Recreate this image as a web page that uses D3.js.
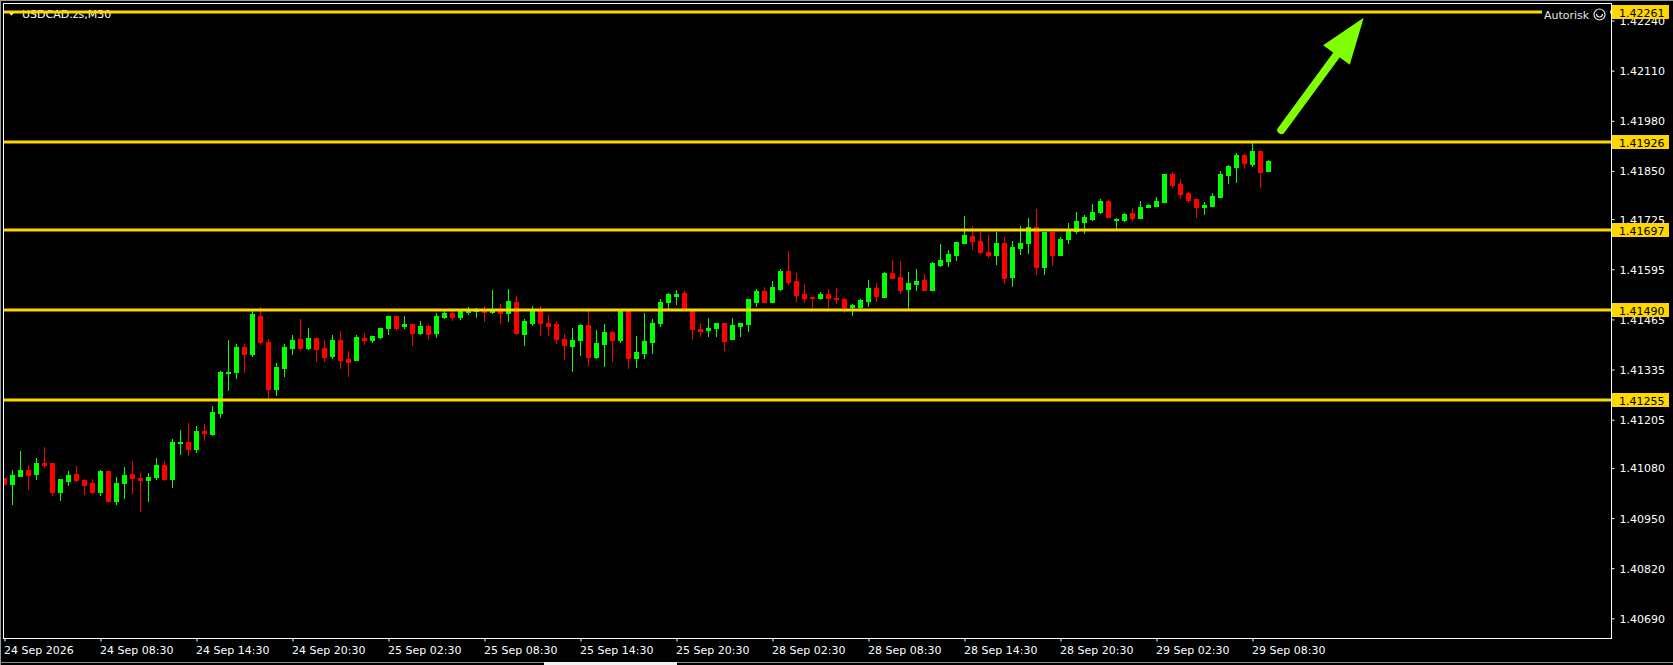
<!DOCTYPE html>
<html>
<head>
<meta charset="utf-8">
<script src="https://cdn.jsdelivr.net/npm/d3@7"></script>
<style>
  html, body { margin: 0; padding: 0; background: #000; }
  svg { display: block; }
  text { font-family: "DejaVu Sans", sans-serif; }
</style>
</head>
<body>
<div id="chart"></div>
<script>
// ---------------- DATA ----------------
const symbolTitle = "USDCAD.zs,M30";
const openP = [1.41053,1.41039,1.41060,1.41075,1.41065,1.41093,1.41093,1.41018,1.41047,1.41065,
1.41049,1.41042,1.41018,1.41073,1.40993,1.41042,1.41065,1.41055,1.41049,1.41057,
1.41088,1.41052,1.41145,1.41147,1.41129,1.41176,1.41168,1.41222,1.41326,1.41328,
1.41393,1.41375,1.41475,1.41406,1.41284,1.41339,1.41390,1.41413,1.41390,1.41416,
1.41390,1.41370,1.41411,1.41362,1.41359,1.41416,1.41411,1.41419,1.41442,1.41473,
1.41448,1.41452,1.41431,1.41447,1.41429,1.41470,1.41481,1.41470,1.41483,1.41487,
1.41490,1.41485,1.41490,1.41481,1.41509,1.41426,1.41455,1.41489,1.41457,1.41452,
1.41413,1.41395,1.41411,1.41450,1.41367,1.41400,1.41432,1.41411,1.41486,1.41364,
1.41377,1.41406,1.41455,1.41509,1.41527,1.41533,1.41489,1.41439,1.41437,1.41442,
1.41457,1.41413,1.41447,1.41452,1.41509,1.41538,1.41510,1.41544,1.41591,1.41565,
1.41531,1.41523,1.41520,1.41531,1.41520,1.41518,1.41497,1.41497,1.41512,1.41546,
1.41523,1.41585,1.41575,1.41544,1.41557,1.41567,1.41541,1.41606,1.41617,1.41632,
1.41664,1.41682,1.41669,1.41640,1.41632,1.41664,1.41575,1.41651,1.41662,1.41705,
1.41600,1.41692,1.41633,1.41674,1.41695,1.41718,1.41726,1.41744,1.41772,1.41723,
1.41723,1.41741,1.41729,1.41757,1.41759,1.41770,1.41842,1.41816,1.41793,1.41777,
1.41757,1.41759,1.41783,1.41839,1.41860,1.41891,1.41868,1.41901,1.41850];
const highP = [1.41055,1.41075,1.41124,1.41088,1.41106,1.41135,1.41093,1.41052,1.41073,1.41086,
1.41052,1.41052,1.41075,1.41073,1.41057,1.41083,1.41098,1.41067,1.41067,1.41106,
1.41098,1.41155,1.41178,1.41196,1.41189,1.41194,1.41240,1.41331,1.41411,1.41401,
1.41401,1.41486,1.41497,1.41413,1.41351,1.41401,1.41424,1.41465,1.41442,1.41416,
1.41411,1.41424,1.41434,1.41382,1.41424,1.41429,1.41421,1.41444,1.41473,1.41473,
1.41473,1.41452,1.41460,1.41450,1.41481,1.41486,1.41486,1.41491,1.41496,1.41495,
1.41499,1.41540,1.41504,1.41543,1.41525,1.41465,1.41501,1.41499,1.41476,1.41460,
1.41426,1.41444,1.41452,1.41486,1.41437,1.41452,1.41434,1.41489,1.41489,1.41421,
1.41481,1.41465,1.41517,1.41533,1.41540,1.41538,1.41489,1.41455,1.41468,1.41457,
1.41457,1.41468,1.41457,1.41517,1.41543,1.41548,1.41565,1.41596,1.41643,1.41585,
1.41557,1.41523,1.41536,1.41544,1.41546,1.41520,1.41505,1.41518,1.41567,1.41559,
1.41588,1.41619,1.41617,1.41588,1.41596,1.41583,1.41614,1.41661,1.41645,1.41666,
1.41734,1.41706,1.41692,1.41685,1.41692,1.41679,1.41669,1.41708,1.41729,1.41752,
1.41692,1.41692,1.41680,1.41716,1.41744,1.41736,1.41765,1.41777,1.41775,1.41729,
1.41741,1.41754,1.41772,1.41765,1.41783,1.41842,1.41847,1.41829,1.41795,1.41777,
1.41770,1.41793,1.41850,1.41865,1.41896,1.41893,1.41922,1.41901,1.41878];
const lowP = [1.41037,1.40987,1.41060,1.41026,1.41052,1.41083,1.41011,1.40998,1.41036,1.41047,
1.41013,1.41016,1.41011,1.40993,1.40987,1.41003,1.41016,1.40967,1.40995,1.41052,
1.41049,1.41031,1.41116,1.41114,1.41122,1.41153,1.41165,1.41212,1.41282,1.41313,
1.41328,1.41370,1.41402,1.41259,1.41269,1.41318,1.41375,1.41385,1.41388,1.41357,
1.41357,1.41364,1.41339,1.41318,1.41359,1.41401,1.41406,1.41416,1.41426,1.41437,
1.41442,1.41398,1.41426,1.41413,1.41419,1.41468,1.41463,1.41465,1.41478,1.41470,
1.41462,1.41481,1.41455,1.41462,1.41426,1.41398,1.41450,1.41424,1.41424,1.41403,
1.41362,1.41330,1.41374,1.41346,1.41364,1.41343,1.41356,1.41406,1.41338,1.41341,
1.41364,1.41377,1.41447,1.41494,1.41504,1.41494,1.41413,1.41421,1.41421,1.41421,
1.41385,1.41413,1.41421,1.41434,1.41501,1.41509,1.41510,1.41541,1.41557,1.41512,
1.41510,1.41497,1.41518,1.41497,1.41507,1.41484,1.41476,1.41494,1.41499,1.41512,
1.41523,1.41572,1.41533,1.41494,1.41541,1.41541,1.41541,1.41604,1.41604,1.41619,
1.41664,1.41648,1.41638,1.41627,1.41609,1.41559,1.41552,1.41635,1.41638,1.41582,
1.41584,1.41607,1.41633,1.41664,1.41690,1.41690,1.41723,1.41741,1.41731,1.41700,
1.41721,1.41723,1.41729,1.41757,1.41759,1.41770,1.41808,1.41780,1.41770,1.41731,
1.41739,1.41759,1.41783,1.41819,1.41821,1.41857,1.41862,1.41808,1.41850];
const closeP = [1.41039,1.41062,1.41075,1.41062,1.41093,1.41088,1.41018,1.41052,1.41062,1.41049,
1.41036,1.41018,1.41073,1.40993,1.41042,1.41062,1.41055,1.41049,1.41057,1.41088,
1.41052,1.41147,1.41147,1.41129,1.41176,1.41171,1.41225,1.41328,1.41328,1.41393,
1.41375,1.41478,1.41407,1.41284,1.41341,1.41393,1.41411,1.41390,1.41416,1.41388,
1.41367,1.41411,1.41359,1.41354,1.41419,1.41411,1.41421,1.41442,1.41473,1.41444,
1.41452,1.41431,1.41447,1.41426,1.41473,1.41481,1.41470,1.41488,1.41488,1.41492,
1.41485,1.41490,1.41481,1.41512,1.41429,1.41460,1.41489,1.41455,1.41447,1.41413,
1.41398,1.41411,1.41450,1.41367,1.41403,1.41432,1.41411,1.41486,1.41364,1.41380,
1.41408,1.41457,1.41509,1.41530,1.41530,1.41494,1.41439,1.41434,1.41444,1.41457,
1.41408,1.41450,1.41457,1.41517,1.41538,1.41509,1.41549,1.41591,1.41562,1.41528,
1.41520,1.41520,1.41531,1.41520,1.41518,1.41497,1.41502,1.41515,1.41546,1.41525,
1.41585,1.41572,1.41541,1.41559,1.41565,1.41541,1.41612,1.41619,1.41635,1.41666,
1.41685,1.41669,1.41640,1.41632,1.41664,1.41572,1.41653,1.41664,1.41705,1.41602,
1.41692,1.41633,1.41674,1.41695,1.41721,1.41731,1.41744,1.41772,1.41731,1.41726,
1.41739,1.41729,1.41757,1.41762,1.41772,1.41842,1.41813,1.41790,1.41775,1.41757,
1.41762,1.41785,1.41842,1.41862,1.41891,1.41870,1.41901,1.41847,1.41875];

const levelPrices = [1.42261, 1.41926, 1.41697, 1.41490, 1.41255];
const yTickValues = [1.42240, 1.42110, 1.41980, 1.41850, 1.41725, 1.41595, 1.41465,
                     1.41335, 1.41205, 1.41080, 1.40950, 1.40820, 1.40690];
const xTickIndex  = [0, 12, 24, 36, 48, 60, 72, 84, 96, 108, 120, 132, 144, 156];
const xTickLabels = ["24 Sep 2026", "24 Sep 08:30", "24 Sep 14:30", "24 Sep 20:30",
                     "25 Sep 02:30", "25 Sep 08:30", "25 Sep 14:30", "25 Sep 20:30",
                     "28 Sep 02:30", "28 Sep 08:30", "28 Sep 14:30", "28 Sep 20:30",
                     "29 Sep 02:30", "29 Sep 08:30"];
// arrow annotation: from (bar index, price) to (bar index, price)
const arrowFrom = [159.6, 1.41956];
const arrowTo   = [169.9, 1.42247];

// ---------------- LAYOUT ----------------
const W = 1673, H = 665;
const plotL = 3, plotR = 1611, plotT = 3, plotB = 638;
const bull = "#00FF00", bear = "#FF0000", gold = "#FFD700", arrowCol = "#80FF00";

const svg = d3.select("#chart").append("svg").attr("width", W).attr("height", H);
svg.append("rect").attr("width", W).attr("height", H).attr("fill", "#000");

const x = d3.scaleLinear().domain([0, 158]).range([4.5, 4.5 + 8 * 158]);
const y = d3.scaleLinear().domain([1.40640, 1.42280]).range([637.6, 5.1]);

svg.append("defs").append("clipPath").attr("id", "plotClip")
  .append("rect").attr("x", plotL + 1).attr("y", plotT + 1)
  .attr("width", plotR - plotL - 1).attr("height", plotB - plotT - 1);

// outer window edge (top and left)
svg.append("rect").attr("x", 0).attr("y", 0).attr("width", W).attr("height", 1).attr("fill", "#9a9a9a");
svg.append("rect").attr("x", 0).attr("y", 0).attr("width", 1).attr("height", H).attr("fill", "#9a9a9a");

// title (under lines)
const title = svg.append("g");
title.append("path").attr("d", "M7.5,11.5 L15.5,11.5 L11.5,15.5 Z").attr("fill", "#fff");
title.append("text").attr("x", 22).attr("y", 18).attr("fill", "#fff")
  .attr("font-size", 11).text(symbolTitle);

// candles
const bars = d3.range(openP.length).map(i => ({
  i, o: openP[i], h: highP[i], l: lowP[i], c: closeP[i]
}));
const cg = svg.append("g").attr("clip-path", "url(#plotClip)").attr("shape-rendering", "crispEdges");
cg.selectAll("line.wick").data(bars).join("line")
  .attr("x1", d => x(d.i)).attr("x2", d => x(d.i))
  .attr("y1", d => Math.round(y(d.h))).attr("y2", d => Math.round(y(d.l)) + 1)
  .attr("stroke", d => d.c >= d.o ? bull : bear).attr("stroke-width", 1);
cg.selectAll("rect.body").data(bars).join("rect")
  .attr("x", d => x(d.i) - 2.5).attr("width", 5)
  .attr("y", d => Math.round(y(Math.max(d.o, d.c))))
  .attr("height", d => Math.max(1, Math.round(y(Math.min(d.o, d.c))) - Math.round(y(Math.max(d.o, d.c))) + 1))
  .attr("fill", d => d.c >= d.o ? bull : bear);

// level lines
svg.append("g").selectAll("line").data(levelPrices).join("line")
  .attr("x1", plotL).attr("x2", plotR)
  .attr("y1", d => Math.round(y(d))).attr("y2", d => Math.round(y(d)))
  .attr("stroke", gold).attr("stroke-width", 3);

// Autorisk label (with black background over the line)
const ar = svg.append("g");
ar.append("rect").attr("x", 1542).attr("y", 7).attr("width", 68).attr("height", 14).attr("fill", "#000");
ar.append("text").attr("x", 1544).attr("y", 18.5).attr("fill", "#e6e6e6").attr("font-size", 11).text("Autorisk");
ar.append("circle").attr("cx", 1599.5).attr("cy", 14.5).attr("r", 5.5)
  .attr("fill", "none").attr("stroke", "#e6e6e6").attr("stroke-width", 1.2);
ar.append("path").attr("d", "M1596.5,14 A3,3 0 0 0 1602.5,14")
  .attr("fill", "none").attr("stroke", "#e6e6e6").attr("stroke-width", 1.2);

// arrow
const ax0 = x(arrowFrom[0]), ay0 = y(arrowFrom[1]);
const ax1 = x(arrowTo[0]), ay1 = y(arrowTo[1]);
const len = Math.hypot(ax1 - ax0, ay1 - ay0);
const ux = (ax1 - ax0) / len, uy = (ay1 - ay0) / len;
const headLen = 46, headHalf = 16.5;
const bx = ax1 - ux * headLen, by = ay1 - uy * headLen;
svg.append("line").attr("x1", ax0).attr("y1", ay0).attr("x2", bx + ux * 2).attr("y2", by + uy * 2)
  .attr("stroke", arrowCol).attr("stroke-width", 8).attr("stroke-linecap", "round");
svg.append("path")
  .attr("d", `M${ax1},${ay1} L${bx - uy * headHalf},${by + ux * headHalf} L${bx + uy * headHalf},${by - ux * headHalf} Z`)
  .attr("fill", arrowCol);

// frame
svg.append("rect").attr("x", plotL + 0.5).attr("y", plotT + 0.5)
  .attr("width", plotR - plotL).attr("height", plotB - plotT)
  .attr("fill", "none").attr("stroke", "#fff").attr("stroke-width", 1).attr("shape-rendering", "crispEdges");

// price axis
const yAxis = svg.append("g").attr("transform", `translate(${plotR + 0.5},0)`)
  .call(d3.axisRight(y).tickValues(yTickValues).tickSize(3).tickPadding(5)
    .tickFormat(d3.format(".5f")));
yAxis.select(".domain").remove();
yAxis.selectAll(".tick line").attr("stroke", "#fff");
yAxis.selectAll(".tick text").attr("fill", "#fff").attr("font-size", 11)
  .attr("font-family", "DejaVu Sans").attr("dy", "0.36em");

// level price labels
const lbl = svg.append("g").selectAll("g").data(levelPrices).join("g")
  .attr("transform", d => `translate(${plotR + 1},${Math.round(y(d))})`);
lbl.append("rect").attr("x", 0).attr("y", -7).attr("width", 57).attr("height", 14).attr("fill", gold);
lbl.append("text").attr("x", 7).attr("y", 4.5).attr("fill", "#000").attr("font-size", 11)
  .text(d => d3.format(".5f")(d));

// time axis
const xAxis = svg.append("g").attr("transform", `translate(0,${plotB + 0.5})`)
  .call(d3.axisBottom(x).tickValues(xTickIndex).tickSize(3)
    .tickFormat((d, k) => xTickLabels[k]));
xAxis.select(".domain").remove();
xAxis.selectAll(".tick line").attr("stroke", "#fff");
xAxis.selectAll(".tick text").attr("fill", "#fff").attr("font-size", 11)
  .attr("font-family", "DejaVu Sans").attr("text-anchor", "start")
  .attr("x", -1).attr("y", 15.5).attr("dy", 0);

// bottom strip (scroll bar)
svg.append("rect").attr("x", 0).attr("y", 662).attr("width", W).attr("height", 1).attr("fill", "#8a8a8a");
svg.append("rect").attr("x", 544).attr("y", 662).attr("width", 133).attr("height", 3).attr("fill", "#f0f0f0");
</script>
</body>
</html>
